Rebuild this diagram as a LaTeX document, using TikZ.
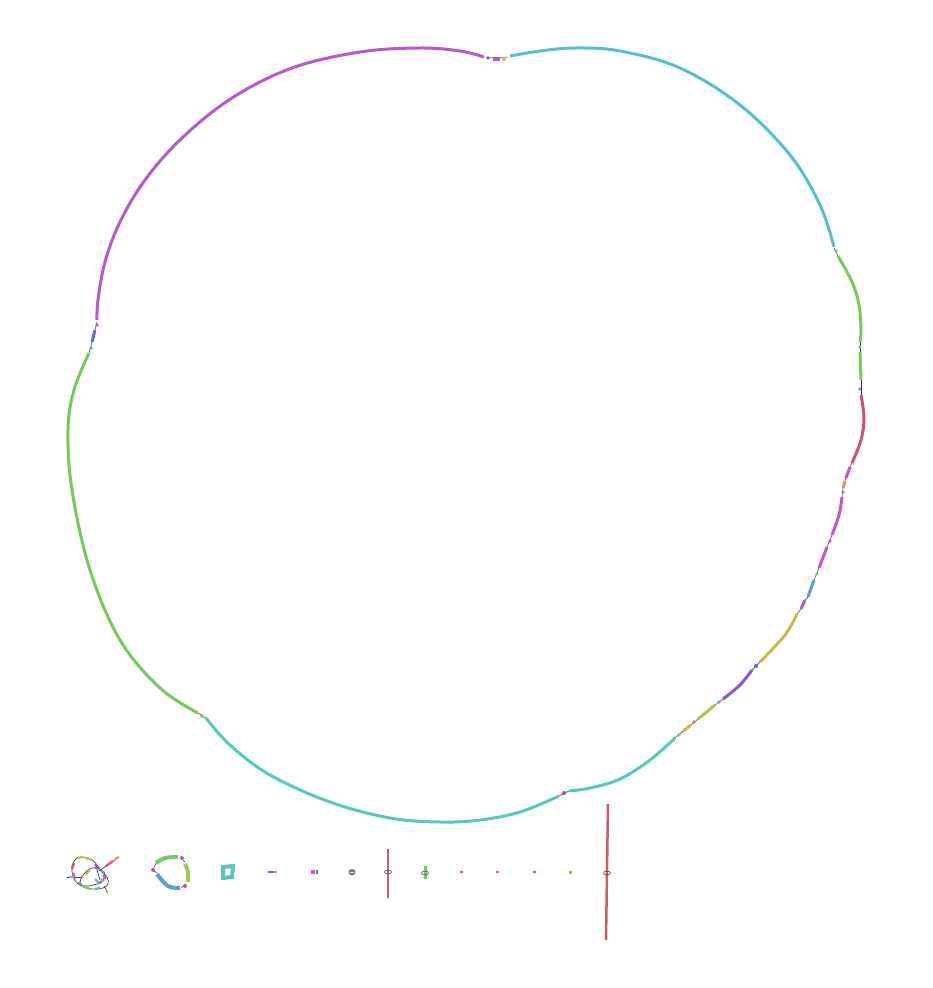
\documentclass[tikz,border=0pt]{standalone}
\definecolor{cpurple}{HTML}{B857CF}
\definecolor{ccyan}{HTML}{56BFCE}
\definecolor{cgreen}{HTML}{79C95A}
\definecolor{cpink}{HTML}{CC5185}
\definecolor{cmag}{HTML}{C455CC}
\definecolor{corange}{HTML}{D4A050}
\definecolor{cblue}{HTML}{5AA0D0}
\definecolor{colive}{HTML}{C8B84F}
\definecolor{cviolet}{HTML}{8A56D8}
\definecolor{cygreen}{HTML}{A8C856}
\definecolor{cteal}{HTML}{56C8BE}
\definecolor{cred}{HTML}{CC5A6A}
\definecolor{cbviolet}{HTML}{6A66D8}
\begin{document}
\begin{tikzpicture}[x=1pt,y=-1pt,
  seg/.style={line width=3pt},
  sseg/.style={line width=2.2pt},
  lnk/.style={line width=0.5pt,black!80},
  tlnk/.style={line width=0.7pt,black!75}]
\useasboundingbox (0,0) rectangle (933,988);
% ---------- thin links along the big loop ----------
\draw[lnk] (97,322) -- (95,330) (92,342) -- (89,353);
\draw[lnk] (486,58) -- (508,57);
\draw[lnk] (834,248) -- (838,256);
\draw[lnk] (860,342) -- (860,352) (861,380) -- (861,395);
\draw[lnk] (852,463) -- (850,467) (846,478) -- (845,481) (843,488) -- (842,497);
\draw[lnk] (832,535) -- (827,547) (819,568) -- (814,580) (808,597) -- (805,600) (801,609) -- (797,614);
\draw[lnk] (760,662) -- (752,670) (723,699) -- (715,705) (698,719) -- (691,725) (683,731) -- (675,738);
\draw[lnk] (569,791) -- (559,796);
\draw[lnk] (206,718) -- (198,713);
% ---------- big loop segments ----------
\draw[seg,cpurple] plot[smooth,tension=0.6] coordinates {(97,320) (98,300) (105,262) (120,222) (145,180) (182,138) (232,98) (292,68) (360,52) (420,48) (460,51) (484,57)};
\draw[seg,cpurple] (493,59) -- (500,59);
\draw[seg,ccyan] plot[smooth,tension=0.6] coordinates {(510,56) (540,51) (575,48) (620,51) (680,68) (740,105) (790,155) (820,205) (834,247)};
\draw[seg,cgreen] plot[smooth,tension=0.6] coordinates {(838,256) (852,282) (859,305) (861,330) (860,342)};
\draw[seg,cgreen] (860,352) -- (861,380);
\draw[seg,cpink] plot[smooth,tension=0.6] coordinates {(861,395) (864,418) (861,440) (852,463)};
\draw[seg,cmag] (850,467) -- (846,478);
\draw[seg,corange] (845,481) -- (843,488);
\draw[seg,cmag] plot[smooth,tension=0.6] coordinates {(842,497) (839,515) (832,535)};
\draw[seg,cmag] (827,547) -- (819,568);
\draw[seg,cblue] (814,580) -- (808,597);
\draw[seg,cmag!80!cpink] (805,600) -- (801,609);
\draw[seg,colive] plot[smooth,tension=0.6] coordinates {(797,614) (785,635) (760,662)};
\draw[seg,cviolet] plot[smooth,tension=0.6] coordinates {(752,670) (740,685) (723,699)};
\draw[seg,cygreen] (715,705) -- (698,719);
\draw[seg,colive] (691,725) -- (683,731);
\draw[seg,cteal] plot[smooth,tension=0.6] coordinates {(675,738) (650,760) (620,779) (590,788) (569,791)};
\draw[seg,cteal] plot[smooth,tension=0.6] coordinates {(559,796) (520,812) (480,820) (440,822) (390,818) (330,802) (270,775) (230,745) (206,718)};
\draw[seg,cgreen] plot[smooth,tension=0.6] coordinates {(198,713) (160,688) (120,640) (90,570) (72,490) (68,430) (74,390) (89,353)};
\draw[seg,cbviolet] (92,342) -- (95,330);
% ---------- dots along the big loop ----------
\fill[cmag] (97,325) circle (1.8);
\fill[cblue] (91,348) circle (1.8);
\fill[cbviolet] (488,58) circle (1.8);
\fill[colive!80!yellow] (504,59) circle (2);
\fill[cgreen] (836,251) circle (1.8);
\fill[ccyan] (860,347) circle (1.8);
\fill[cblue] (860,389) circle (1.8);
\fill[cblue] (843,492) circle (1.8);
\fill[cmag] (830,541) circle (1.8);
\fill[cgreen] (817,574) circle (1.8);
\fill[cbviolet] (756,666) circle (2);
\fill[cblue] (719,702) circle (1.8);
\fill[corange!70!red] (694,722) circle (1.8);
\fill[cgreen] (679,735) circle (1.8);
\fill[cviolet] (564,793) circle (2);
\fill[cygreen] (202,716) circle (2);
% ---------- bottom row: tangle ----------
\draw[tlnk] plot[smooth cycle,tension=0.7] coordinates {(72,866) (76,859) (83,857) (91,859) (97,865) (102,872) (107,877) (108,884) (103,888) (93,889) (84,887) (77,883) (73,876)};
\draw[tlnk] plot[smooth cycle,tension=0.7] coordinates {(80,883) (84,874) (92,868) (100,869) (105,875) (101,882) (93,885) (85,886)};
\draw[tlnk] (99,871) -- (119,857);
\draw[tlnk] (67,877) -- (82,877);
\draw[tlnk] (104,886) -- (108,893);
\draw[tlnk] (96,866) -- (100,880);
\draw[sseg,cred] (72,869) -- (74,863);
\draw[sseg,colive] (77,858) -- (83,857);
\draw[sseg,cygreen] (86,858) -- (92,860);
\draw[sseg,cviolet] (95,864) -- (99,869);
\draw[sseg,cmag] (103,875) -- (106,879);
\draw[sseg,cgreen] (82,886) -- (90,889);
\draw[sseg,ccyan] (95,889) -- (100,888);
\draw[sseg,cmag] (73,873) -- (75,879);
\draw[sseg,cmag] (78,883) -- (82,885);
\draw[sseg,cygreen] (86,874) -- (90,870);
\draw[sseg,ccyan] (101,879) -- (104,881);
\draw[sseg,cpink] (106,866) -- (113,861);
\draw[sseg,corange] (115,859) -- (119,857);
\draw[sseg,cteal] (69,877) -- (74,877);
\draw[sseg,cblue] (101,871) -- (105,873);
\draw[sseg,cteal] (95,879) -- (98,882);
\draw[sseg,cpink] (98,883) -- (102,882);
\fill[colive] (82,876) circle (1.5);
\fill[cmag] (96,868) circle (1.5);
\fill[corange] (107,892) circle (1.3);
% ---------- bottom row: small loop ----------
\draw[lnk] (153,870) -- (156,863) (180,857) -- (185,862) (186,884) -- (181,888) (157,873) -- (153,870);
\draw[line width=4pt,cgreen!90!cteal] plot[smooth,tension=0.6] coordinates {(156,863) (165,858) (178,857)};
\draw[line width=4pt,cygreen!80!cgreen] plot[smooth,tension=0.6] coordinates {(185,864) (188,872) (188,882)};
\draw[line width=4pt,cblue] plot[smooth,tension=0.6] coordinates {(180,888) (168,886) (157,874)};
\fill[cmag] (182,858) circle (2);
\fill[cred] (185,886) circle (2);
\fill[cred] (153,870) circle (2);
% ---------- bottom row: square ----------
\draw[line width=4pt,cteal] (223,867) -- (233,866) -- (232,877) -- (223,878) -- cycle;
% ---------- bottom row: short pieces ----------
\draw[line width=1.5pt,cviolet] (268,872) -- (273,872);
\draw[line width=1.5pt,corange] (273,872) -- (277,872);
\fill[cmag] (311,870) rectangle (315,874);
\draw[lnk] (316,870) -- (318,874) (316,874) -- (318,870);
\fill[cmag] (352,871) ellipse (2.5 and 1.5);
\fill[cgreen] (352,874) ellipse (2.5 and 1.2);
\draw[lnk] (352,872) ellipse (3 and 2.5);
% red bar with loop
\draw[line width=2.5pt,cred] (388,849) -- (388,898);
\draw[lnk] (388,872) ellipse (3.5 and 2);
% green bar with loop
\draw[line width=3pt,cgreen] (425,866) -- (425,879);
\draw[lnk] (425,873) ellipse (3.5 and 2);
% tiny pieces
\fill[cmag] (460,871) rectangle (463,873);
\fill[cmag] (496,871) rectangle (499,873);
\fill[cpink] (533,871) rectangle (536,873);
\fill[corange] (569,871) rectangle (572,874);
% long red bar
\draw[line width=2.5pt,cred] (608,804) -- (606,940);
\draw[lnk] (607,873) ellipse (3.5 and 2);
\end{tikzpicture}
\end{document}
